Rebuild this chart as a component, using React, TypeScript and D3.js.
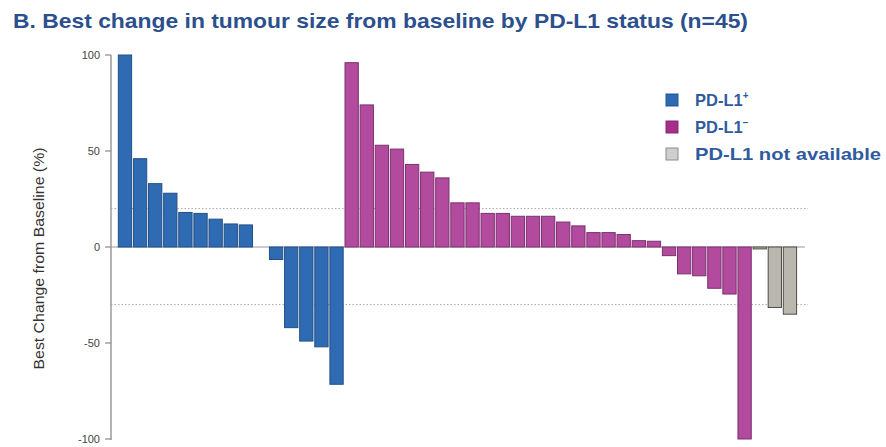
import React from "react";
import * as d3 from "d3";

// ---- data ----
const groups = ["pos", "neg", "na"];
const groupLabels = ["PD-L1", "PD-L1", "PD-L1 not available"];
const groupSup = ["+", "-", ""];
const posValues = [100, 46, 33, 28, 18, 17.5, 14.5, 12, 11.5, 0, -6.5, -42, -49, -52, -71.5];
const negValues = [96, 74, 53, 51, 43, 39, 36, 23, 23, 17.5, 17.5, 16, 16, 16, 13, 11, 7.5, 7.5, 6.5, 3.3, 3, -4.5, -14, -15, -21.5, -24.5, -100];
const naValues = [-1, -31.5, -35];
const yTicks = [100, 50, 0, -50, -100];
const refLines = [20, -30];

const fills: Record<string, string> = { pos: "#2f6bb3", neg: "#b24a9d", na: "#b9b7ae" };
const strokes: Record<string, string> = { pos: "#244f86", neg: "#7b3170", na: "#4f4e48" };
const legendFills: Record<string, string> = { pos: "#2f68b4", neg: "#a32f8c", na: "#cfcfcf" };
const legendStrokes: Record<string, string> = { pos: "#2a5592", neg: "#8a2a78", na: "#8c8c8c" };

type Bar = { i: number; v: number; g: string };
const bars: Bar[] = [
  ...posValues.map((v) => ({ v, g: "pos" })),
  ...negValues.map((v) => ({ v, g: "neg" })),
  ...naValues.map((v) => ({ v, g: "na" })),
].map((d, i) => ({ ...d, i }));

export default function App() {
  const W = 886, H = 447;
  const y = d3.scaleLinear().domain([-100, 100]).range([439, 55]);
  const x = d3
    .scaleBand<number>()
    .domain(bars.map((b) => b.i))
    .range([117.4, 797.5])
    .paddingInner(0.12)
    .paddingOuter(0.06);
  const axisX = 111;
  const lineEnd = 808;
  const font = "'Liberation Sans', Arial, Helvetica, sans-serif";

  return (
    <svg
      width={W}
      height={H}
      style={{ position: "absolute", left: 0, top: 0, background: "#fff" }}
      fontFamily={font}
    >
      <rect x={0} y={0} width={W} height={H} fill="#fff" />
      <text
        x={13}
        y={28}
        fontSize={21}
        fontWeight="bold"
        fill="#2c4f8d"
        textLength={735}
        lengthAdjust="spacingAndGlyphs"
      >
        B. Best change in tumour size from baseline by PD-L1 status (n=45)
      </text>

      {/* reference dotted lines */}
      {refLines.map((r) => (
        <line
          key={r}
          x1={axisX}
          x2={lineEnd}
          y1={y(r)}
          y2={y(r)}
          stroke="#a8a8a8"
          strokeWidth={1}
          strokeDasharray="1.5,2"
        />
      ))}
      {/* zero line */}
      <line x1={axisX} x2={lineEnd - 3} y1={y(0)} y2={y(0)} stroke="#9a9a9a" strokeWidth={1.2} />

      {/* bars */}
      {bars.map((b) => {
        const y0 = y(0);
        const yv = y(b.v);
        const top = Math.min(y0, yv);
        const h = Math.abs(yv - y0);
        if (h <= 0) return null;
        return (
          <rect
            key={b.i}
            x={x(b.i)}
            y={top}
            width={x.bandwidth()}
            height={h}
            fill={fills[b.g]}
            stroke={strokes[b.g]}
            strokeWidth={1}
          />
        );
      })}

      {/* y axis */}
      <line x1={axisX} x2={axisX} y1={y(100)} y2={y(-100) + 1} stroke="#a0a0a0" strokeWidth={1.6} />
      {yTicks.map((t) => (
        <g key={t}>
          <line x1={axisX - 6} x2={axisX} y1={y(t)} y2={y(t)} stroke="#8a8a8a" strokeWidth={1.2} />
          <text
            x={axisX - 11}
            y={y(t)}
            dy="0.35em"
            textAnchor="end"
            fontSize={11}
            fill="#444"
          >
            {t}
          </text>
        </g>
      ))}
      <text
        transform={`translate(44, ${(147 + 370) / 2}) rotate(-90)`}
        textAnchor="middle"
        fontSize={14.5}
        fill="#333"
        textLength={222}
        lengthAdjust="spacingAndGlyphs"
      >
        Best Change from Baseline (%)
      </text>

      {/* legend */}
      {groups.map((g, k) => {
        const by = 106 + k * 27;
        return (
          <g key={g}>
            <rect
              x={666}
              y={by - 12}
              width={12}
              height={12}
              fill={legendFills[g]}
              stroke={legendStrokes[g]}
              strokeWidth={1}
            />
            <text
              x={695}
              y={by}
              fontSize={16.5}
              fontWeight="bold"
              fill="#2f5a9e"
              {...(g === "na" ? { textLength: 186, lengthAdjust: "spacingAndGlyphs" } : {})}
            >
              {groupLabels[k]}
              {groupSup[k] ? (
                <tspan fontSize={10} dy={-7}>
                  {groupSup[k] === "-" ? "\u2212" : groupSup[k]}
                </tspan>
              ) : null}
            </text>
          </g>
        );
      })}
    </svg>
  );
}
